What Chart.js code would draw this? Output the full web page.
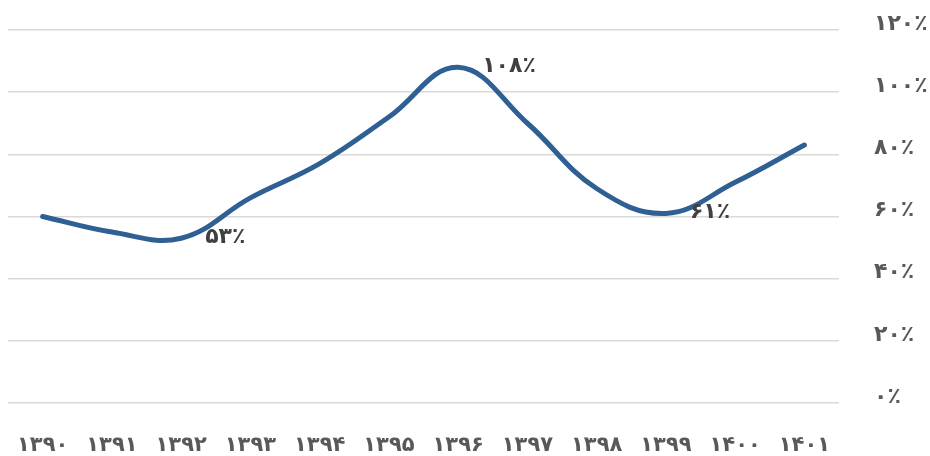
<!DOCTYPE html>
<html>
<head>
<meta charset="utf-8">
<script src="https://cdn.jsdelivr.net/npm/chart.js@4"></script>
<style>
html,body{margin:0;padding:0;background:#fff;}
#wrap{width:930px;height:456px;position:relative;}
</style>
</head>
<body>
<div id="wrap"><canvas id="c" width="930" height="456"></canvas></div>
<script>
const categories = ['۱۳۹۰','۱۳۹۱','۱۳۹۲','۱۳۹۳','۱۳۹۴','۱۳۹۵','۱۳۹۶','۱۳۹۷','۱۳۹۸','۱۳۹۹','۱۴۰۰','۱۴۰۱'];
const values = [60, 55, 53, 66, 77, 92, 108, 90, 69, 61, 71, 83];
const tickValues = [0, 20, 40, 60, 80, 100, 120];
const tickLabels = ['۰٪','۲۰٪','۴۰٪','۶۰٪','۸۰٪','۱۰۰٪','۱۲۰٪'];
const labelIndices = [2, 6, 9];
const labelTexts = ['۵۳٪','۱۰۸٪','۶۱٪'];

const FONT = '"DejaVu Sans", sans-serif';

const dataLabels = {
  id: 'dataLabels',
  afterDatasetsDraw(chart) {
    const ctx = chart.ctx;
    const xs = chart.scales.x, ys = chart.scales.y;
    ctx.save();
    ctx.font = 'bold 22px ' + FONT;
    ctx.fillStyle = '#404040';
    ctx.textAlign = 'left';
    ctx.textBaseline = 'middle';
    labelIndices.forEach((idx, k) => {
      const x = xs.getPixelForValue(idx);
      const y = ys.getPixelForValue(values[idx]);
      ctx.fillText(labelTexts[k], x + 24, y - 1);
    });
    ctx.restore();
  }
};

new Chart(document.getElementById('c'), {
  type: 'line',
  data: {
    labels: categories,
    datasets: [{
      data: values,
      borderColor: '#2F6094',
      borderWidth: 5,
      tension: 0.4,
      pointRadius: 0,
      fill: false,
      borderCapStyle: 'round'
    }]
  },
  options: {
    responsive: false,
    animation: false,
    layout: { padding: { left: 8, right: 0, top: 30, bottom: 0 } },
    plugins: { legend: { display: false }, tooltip: { enabled: false } },
    scales: {
      x: {
        offset: true,
        grid: { display: false },
        border: { display: false },
        afterFit(axis) { axis.height = 53; axis.paddingLeft = 0; axis.paddingRight = 0; },
        ticks: { font: { family: FONT, size: 21, weight: 'bold' }, color: '#595959', padding: 22, maxRotation: 0, autoSkip: false }
      },
      y: {
        position: 'right',
        min: 0, max: 120,
        afterBuildTicks(axis) { axis.ticks = tickValues.map(v => ({ value: v })); },
        afterFit(axis) { axis.width = 91; axis.paddingTop = 0; axis.paddingBottom = 0; },
        grid: { color: '#D9D9D9', lineWidth: 1.5, drawTicks: false },
        border: { display: false },
        ticks: {
          font: { family: FONT, size: 22, weight: 'bold' }, color: '#595959', padding: 35, labelOffset: -6,
          callback(v) { const i = tickValues.indexOf(v); return i >= 0 ? tickLabels[i] : ''; }
        }
      }
    }
  },
  plugins: [dataLabels]
});
</script>
</body>
</html>
